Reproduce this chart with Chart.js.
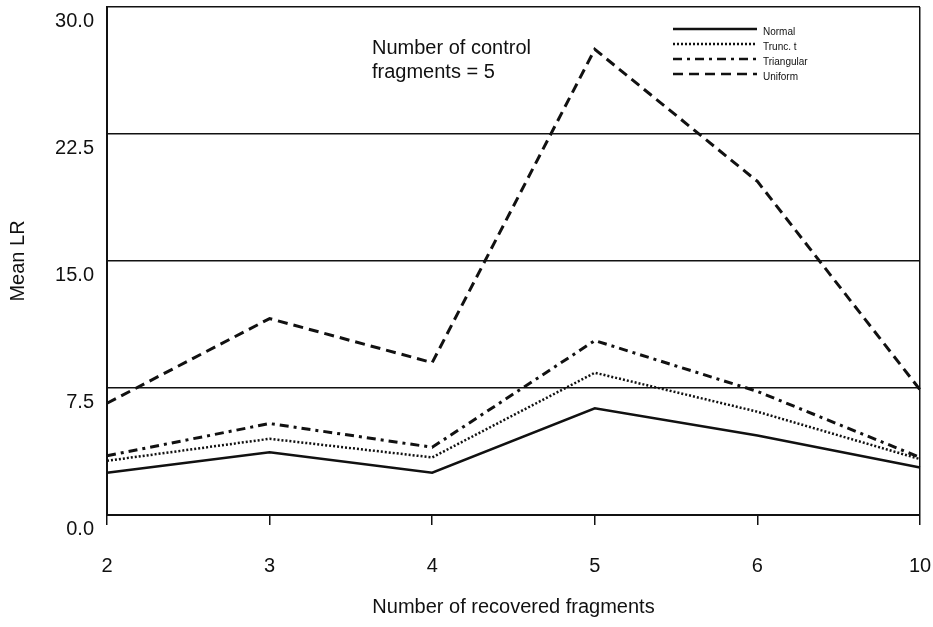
<!DOCTYPE html>
<html>
<head>
<meta charset="utf-8">
<script src="https://cdn.jsdelivr.net/npm/chart.js@4/dist/chart.umd.min.js"></script>
<style>
  html, body { margin: 0; padding: 0; background: #fff; }
  canvas { display: block; }
</style>
</head>
<body>
<canvas id="chart" width="933" height="627"></canvas>
<script>
// Recovered fragment counts (x categories)
const categories = ['2', '3', '4', '5', '6', '10'];

// Mean LR per distribution
const normalLR     = [2.5, 3.7, 2.5, 6.3, 4.7, 2.8];
const truncTLR     = [3.2, 4.5, 3.4, 8.4, 6.1, 3.3];
const triangularLR = [3.5, 5.4, 4.0, 10.3, 7.3, 3.4];
const uniformLR    = [6.6, 11.6, 9.0, 27.5, 19.7, 7.4];

const seriesNames = ['Normal', 'Trunc. t', 'Triangular', 'Uniform'];

// Y axis range and tick spacing
const yMin = 0;
const yMax = 30;
const yStep = 7.5;

const noteLines = ['Number of control', 'fragments = 5'];
const xTitle = 'Number of recovered fragments';
const yTitle = 'Mean LR';

const FONT = '"Liberation Sans", Arial, Helvetica, sans-serif';
const INK = '#111';

// Legend drawn inside the plot, upper right
const insideLegend = {
  id: 'insideLegend',
  afterDraw(chart) {
    const ctx = chart.ctx;
    const x0 = 673, x1 = 757, tx = 763;
    const rows = [31, 46, 61, 76];
    ctx.save();
    chart.data.datasets.forEach((ds, i) => {
      const y = rows[i];
      ctx.beginPath();
      ctx.strokeStyle = ds.borderColor;
      ctx.lineWidth = Math.min(ds.borderWidth, 2.5);
      ctx.setLineDash(ds.borderDash || []);
      ctx.moveTo(x0, y - 2);
      ctx.lineTo(x1, y - 2);
      ctx.stroke();
      ctx.setLineDash([]);
      ctx.fillStyle = INK;
      ctx.font = '10px ' + FONT;
      ctx.textAlign = 'left';
      ctx.textBaseline = 'middle';
      ctx.fillText(ds.label, tx, y + 1);
    });
    ctx.restore();
  }
};

// Text note in the plot
const plotNote = {
  id: 'plotNote',
  afterDraw(chart) {
    const ctx = chart.ctx;
    ctx.save();
    ctx.fillStyle = INK;
    ctx.font = '20px ' + FONT;
    ctx.textAlign = 'left';
    ctx.textBaseline = 'middle';
    noteLines.forEach((t, i) => ctx.fillText(t, 372, 48 + i * 24));
    ctx.restore();
  }
};

const lastIndex = categories.length - 1;

new Chart(document.getElementById('chart'), {
  type: 'line',
  data: {
    labels: categories,
    datasets: [
      { label: seriesNames[0], data: normalLR,     borderColor: INK, borderWidth: 2.5, borderDash: [] },
      { label: seriesNames[1], data: truncTLR,     borderColor: INK, borderWidth: 2.5, borderDash: [2, 2] },
      { label: seriesNames[2], data: triangularLR, borderColor: INK, borderWidth: 3,   borderDash: [9, 5, 3, 5] },
      { label: seriesNames[3], data: uniformLR,    borderColor: INK, borderWidth: 3,   borderDash: [10, 6] }
    ].map(d => Object.assign(d, { fill: false, tension: 0, pointRadius: 0, pointHoverRadius: 0, backgroundColor: INK }))
  },
  options: {
    responsive: false,
    animation: false,
    devicePixelRatio: 1,
    layout: { padding: { top: 7, right: 13, left: 0, bottom: 0 } },
    plugins: {
      legend: { display: false },
      tooltip: { enabled: false }
    },
    scales: {
      x: {
        type: 'category',
        offset: false,
        border: { display: true, color: INK, width: 2 },
        grid: {
          drawOnChartArea: true,
          drawTicks: true,
          tickLength: 10,
          lineWidth: 1.5,
          color: c => (c.index === lastIndex ? INK : 'rgba(0,0,0,0)'),
          tickColor: INK
        },
        ticks: {
          color: INK,
          font: { family: FONT, size: 20 },
          padding: 29,
          maxRotation: 0,
          autoSkip: false
        },
        title: {
          display: true,
          text: xTitle,
          color: INK,
          font: { family: FONT, size: 20 },
          padding: { top: 0, bottom: 8 }
        },
        afterFit(scale) {
          scale.height = 112;
          scale.paddingLeft = 0;
          scale.paddingRight = 0;
        }
      },
      y: {
        min: yMin,
        max: yMax,
        border: { display: true, color: INK, width: 2 },
        grid: {
          drawOnChartArea: true,
          drawTicks: false,
          lineWidth: 1.5,
          color: INK
        },
        ticks: {
          stepSize: yStep,
          color: INK,
          font: { family: FONT, size: 20 },
          padding: 13,
          labelOffset: 14,
          callback: v => Number(v).toFixed(1)
        },
        title: {
          display: true,
          text: yTitle,
          color: INK,
          font: { family: FONT, size: 20 },
          padding: { top: 6, bottom: 0 }
        },
        afterFit(scale) {
          scale.width = 107;
          scale.paddingTop = 0;
          scale.paddingBottom = 0;
        }
      }
    }
  },
  plugins: [insideLegend, plotNote]
});
</script>
</body>
</html>
